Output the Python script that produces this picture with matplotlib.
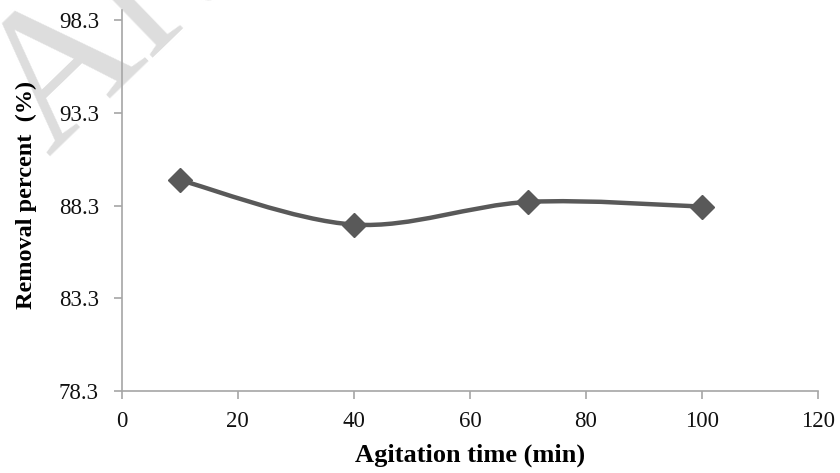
import numpy as np
import matplotlib
matplotlib.use("Agg")
import matplotlib.pyplot as plt
from matplotlib.path import Path
from matplotlib.patches import PathPatch

# Data
time_min = [10, 40, 70, 100]
removal_pct = [89.68, 87.28, 88.50, 88.25]
x_ticks = [0, 20, 40, 60, 80, 100, 120]
y_ticks = [78.3, 83.3, 88.3, 93.3, 98.3]
x_label = "Agitation time (min)"
y_label = "Removal percent  (%)"
watermark = "Article in Press"

LINE_COL = "#595959"
AXIS_COL = "#a6a6a6"
SERIF = ["Liberation Serif", "DejaVu Serif"]

fig = plt.figure(figsize=(8.4, 4.73), dpi=100)
ax = fig.add_axes([0.145, 0.173, 0.829, 0.806])

# watermark (behind everything)
fig.text(50 / 840, 1 - 158 / 473, watermark, rotation=44, rotation_mode="anchor",
         fontsize=140, color="#dddddd", family=SERIF, ha="left", va="baseline",
         zorder=-1)

# Excel-like smoothed curve via Bezier segments
x = np.asarray(time_min, float)
y = np.asarray(removal_pct, float)
n = len(x)
verts = [(x[0], y[0])]
codes = [Path.MOVETO]
for i in range(n - 1):
    p0 = np.array([x[max(i - 1, 0)], y[max(i - 1, 0)]])
    p1 = np.array([x[i], y[i]])
    p2 = np.array([x[i + 1], y[i + 1]])
    p3 = np.array([x[min(i + 2, n - 1)], y[min(i + 2, n - 1)]])
    c1 = p1 + (p2 - p0) / 6.0
    c2 = p2 - (p3 - p1) / 6.0
    verts += [tuple(c1), tuple(c2), tuple(p2)]
    codes += [Path.CURVE4] * 3
ax.add_patch(PathPatch(Path(verts, codes), fill=False, edgecolor=LINE_COL,
                       lw=3.2, capstyle="round", joinstyle="round", zorder=3))
ax.plot(time_min, removal_pct, linestyle="none", marker="D", ms=12,
        color=LINE_COL, zorder=4)

ax.set_xlim(0, 120)
ax.set_ylim(78.3, 98.85)
ax.set_xticks(x_ticks)
ax.set_yticks(y_ticks)
ax.set_xticklabels([str(v) for v in x_ticks])
ax.set_yticklabels([f"{v:.1f}" for v in y_ticks])

for s in ["top", "right"]:
    ax.spines[s].set_visible(False)
for s in ["left", "bottom"]:
    ax.spines[s].set_color(AXIS_COL)
    ax.spines[s].set_linewidth(1.2)
ax.tick_params(direction="out", length=6, width=1.2, color=AXIS_COL,
               labelsize=16.5)
ax.tick_params(axis="x", pad=8)
ax.tick_params(axis="y", pad=10.5)
for lab in ax.get_xticklabels() + ax.get_yticklabels():
    lab.set_family(SERIF)
    lab.set_color("#111111")

ax.set_xlabel(x_label, family=SERIF, fontsize=19, fontweight="bold")
ax.set_ylabel(y_label, family=SERIF, fontsize=17.5, fontweight="bold")
ax.xaxis.set_label_coords(0.5, -0.138)
ax.yaxis.set_label_coords(-0.122, 0.514)
ax.patch.set_alpha(0)

fig.savefig("out.png", dpi=100)
